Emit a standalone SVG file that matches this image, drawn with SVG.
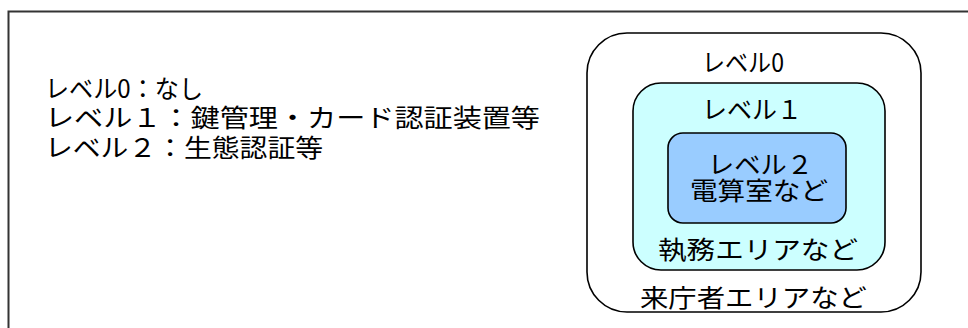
<svg xmlns="http://www.w3.org/2000/svg" width="968" height="328" viewBox="0 0 968 328">
<style>
  text { font-family: "Noto Sans CJK JP", "Noto Sans", sans-serif; font-size: 25px; fill: #000; dominant-baseline: central; }
  .box { stroke: #000; stroke-width: 1.6; }
</style>
<rect x="8.5" y="11.5" width="980" height="340" fill="#fff" stroke="#333" stroke-width="2"/>
<g id="legend">
  <text x="45" y="87" textLength="158" lengthAdjust="spacingAndGlyphs">レベル0：なし</text>
  <text x="45" y="116" textLength="495" lengthAdjust="spacingAndGlyphs">レベル１：鍵管理・カード認証装置等</text>
  <text x="45" y="146" textLength="278" lengthAdjust="spacingAndGlyphs">レベル２：生態認証等</text>
</g>
<g id="level0">
  <rect class="box" x="587" y="33" width="334" height="279" rx="40" ry="40" fill="#fff"/>
  <text x="702" y="61" textLength="82" lengthAdjust="spacingAndGlyphs">レベル0</text>
  <text x="640" y="296" textLength="227" lengthAdjust="spacingAndGlyphs">来庁者エリアなど</text>
</g>
<g id="level1">
  <rect class="box" x="633" y="83" width="252" height="187" rx="28" ry="28" fill="#CCFFFF"/>
  <text x="702" y="108" textLength="100" lengthAdjust="spacingAndGlyphs">レベル１</text>
  <text x="658" y="248" textLength="200" lengthAdjust="spacingAndGlyphs">執務エリアなど</text>
</g>
<g id="level2">
  <rect class="box" x="668" y="133" width="178" height="90" rx="15" ry="15" fill="#99CCFF"/>
  <text x="708" y="163" textLength="105" lengthAdjust="spacingAndGlyphs">レベル２</text>
  <text x="690" y="189" textLength="138" lengthAdjust="spacingAndGlyphs">電算室など</text>
</g>
<g id="connectors"/>
</svg>
